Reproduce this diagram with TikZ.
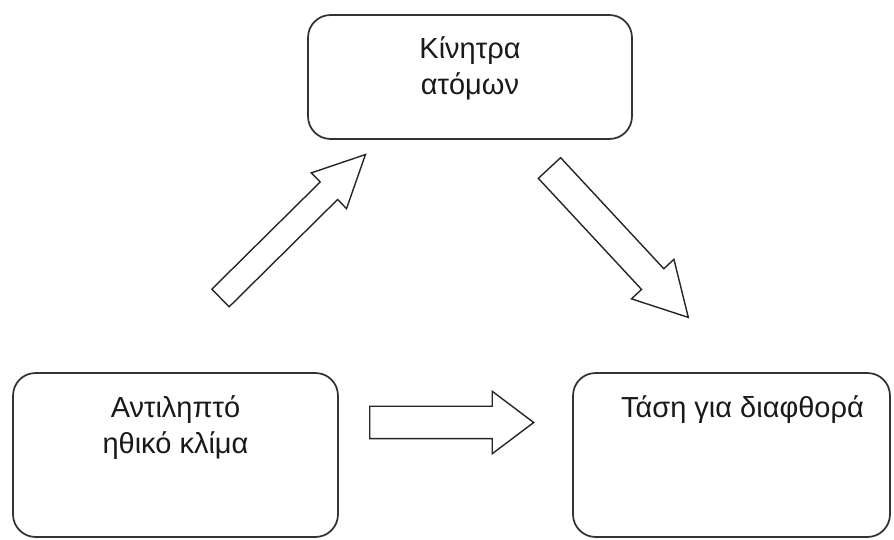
\documentclass[tikz,border=0pt]{standalone}
\usepackage{fontspec}
\setmainfont{Liberation Sans}
\usetikzlibrary{positioning,shapes.arrows}

\tikzset{
  box/.style={rectangle,rounded corners=0.45cm,draw=black!80,line width=1pt,inner sep=0},
  boxtext/.style={align=center,inner sep=0,text=black!90,font=\fontsize{16.5}{20.5}\selectfont},
  blockarrow/.style={single arrow,draw=black!85,line width=0.8pt,inner xsep=0,single arrow head indent=0,anchor=tail}
}

\begin{document}
\begin{tikzpicture}[x=0.02cm,y=-0.02cm]
\useasboundingbox (0,0) rectangle (894,540);
% boxes
\node[box,minimum width=6.48cm,minimum height=2.48cm] (motive) at (470,77) {};
\node[box,minimum width=6.5cm,minimum height=3.28cm] (climate) at (175.5,455) {};
\node[box,minimum width=6.34cm,minimum height=3.28cm] (corrupt) at (731.5,455) {};
\node[boxtext,below=0.45cm of motive.north] (motivetext) {Κίνητρα\\ατόμων};
\node[boxtext,below=0.46cm of climate.north] (climatetext) {Αντιληπτό\\ηθικό κλίμα};
\node[boxtext,below=0.46cm of corrupt.north,xshift=0.22cm] (corrupttext) {Τάση για διαφθορά};
% block arrows
\node[blockarrow,rotate=44.7,minimum height=4.08cm,inner ysep=0.233cm,single arrow head extend=0.255cm,single arrow tip angle=52] (upright) at (220,298.5) {};
\node[blockarrow,rotate=-47.1,minimum height=4.08cm,inner ysep=0.29cm,single arrow head extend=0.276cm,single arrow tip angle=58] (downright) at (549,167.5) {};
\node[blockarrow,minimum height=3.28cm,inner ysep=0.31cm,single arrow head extend=0.3cm,single arrow tip angle=74] (across) at (369,422.5) {};
\end{tikzpicture}
\end{document}
